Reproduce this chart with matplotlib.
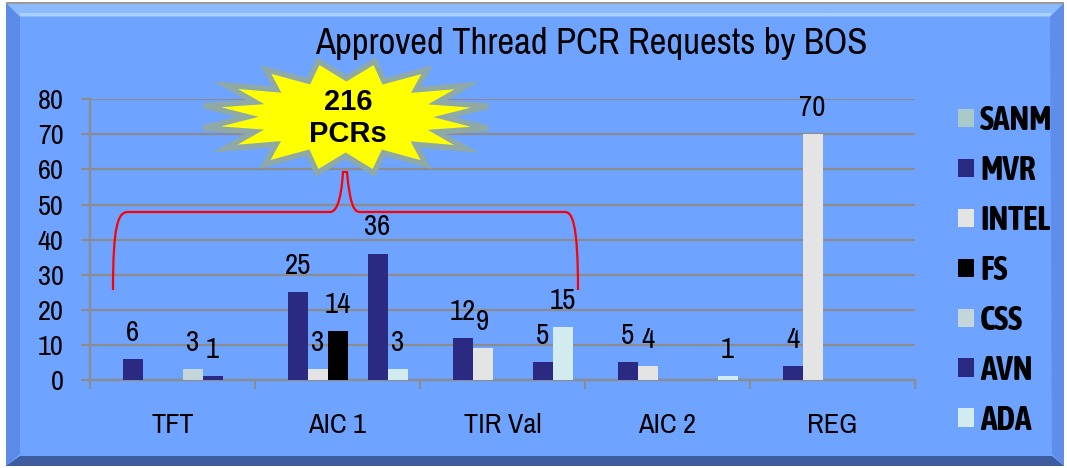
import numpy as np
import matplotlib
matplotlib.use("Agg")
import matplotlib.pyplot as plt
from matplotlib import font_manager
from matplotlib.patches import Polygon, Rectangle, PathPatch
from matplotlib.path import Path
from matplotlib.transforms import Affine2D

# data
categories = ["TFT", "AIC 1", "TIR Val", "AIC 2", "REG"]
series = ["SANM", "MVR", "INTEL", "FS", "CSS", "AVN", "ADA"]
nan = np.nan
sanm = [nan, nan, nan, nan, nan]
mvr = [6, 25, 12, 5, 4]
intel = [nan, 3, 9, 4, 70]
fs = [nan, 14, nan, nan, nan]
css = [3, nan, nan, nan, nan]
avn = [1, 36, 5, nan, nan]
ada = [nan, 3, 15, 1, nan]
total_text = "216\nPCRs"
yticks = [0, 10, 20, 30, 40, 50, 60, 70, 80]

colors = ["#A9CAC9", "#2B2A83", "#E4E4E4", "#000000", "#C5D6D8", "#2B2A83", "#D1EBEE"]

# narrow face if the box has one, else plain Liberation Sans at width-matched sizes
names = {f.name for f in font_manager.fontManager.ttflist}
if "Archivo Narrow" in names:
    REG_FONT, k = ["Archivo Narrow", "Liberation Sans", "DejaVu Sans"], 1.2
else:
    REG_FONT, k = ["Liberation Sans", "DejaVu Sans"], 1.0
if "Asap Condensed" in names:
    BOLD_FONT, kb = ["Asap Condensed", "Liberation Sans", "DejaVu Sans"], 1.42
else:
    BOLD_FONT, kb = ["Liberation Sans", "DejaVu Sans"], 1.0
plt.rcParams["font.family"] = REG_FONT

W, H = 1067, 468
fig = plt.figure(figsize=(W / 100, H / 100), dpi=100)
fig.patch.set_facecolor("white")
# pixel transform, origin top-left
px = Affine2D().scale(1 / W, -1 / H).translate(0, 1) + fig.transFigure

# bevelled frame
BLUE = "#6EA3FF"
frame = [
    (Rectangle((6, 3), 1058, 463), BLUE),
    (Polygon([(6, 3), (1064, 3), (1050, 17), (20, 17)]), "#8DBAFF"),
    (Polygon([(20, 13), (1052, 13), (1050, 16), (20, 16)]), "#A9D2FF"),
    (Polygon([(6, 3), (20, 17), (20, 454), (6, 466)]), "#5B8BE6"),
    (Polygon([(1064, 3), (1050, 17), (1052, 454), (1064, 466)]), "#5E8EEA"),
    (Polygon([(6, 466), (20, 456), (1052, 456), (1064, 466)]), "#3F5D9E"),
]
for p, c in frame:
    p.set_transform(px)
    p.set_facecolor(c)
    p.set_edgecolor("none")
    p.set_zorder(-2)
    fig.add_artist(p)
top_line = Rectangle((6, 2), 1058, 1.5, transform=px, facecolor="#9A9A9A",
                     edgecolor="none", zorder=-1)
fig.add_artist(top_line)

ax = fig.add_axes([90 / W, 1 - 380 / H, 825 / W, (380 - 99.3) / H])
ax.set_facecolor("none")

x = np.arange(len(categories))
w = 20 / 165
GRID = "#8C8C8C"
all_vals = [sanm, mvr, intel, fs, css, avn, ada]
for i, (name, vals, col) in enumerate(zip(series, all_vals, colors)):
    vals = np.array(vals, dtype=float)
    bars = ax.bar(x + (i - 3) * w, vals, w, color=col, label=name, zorder=3)
    labels = ["" if np.isnan(v) else f"{v:g}" for v in vals]
    ax.bar_label(bars, labels=labels, padding=9.5, fontsize=17.3 * k, zorder=4)

ax.set_xlim(-0.5, len(categories) - 0.5)
ax.set_ylim(0, 80)
ax.set_yticks(yticks)
ax.tick_params(axis="y", length=6.5, width=1.5, color=GRID, labelsize=17 * k, pad=12.5)
ax.set_xticks(x)
ax.set_xticklabels(categories)
ax.set_xticks(np.arange(len(categories) + 1) - 0.5, minor=True)
ax.tick_params(axis="x", which="major", length=0, labelsize=17 * k, pad=24)
ax.tick_params(axis="x", which="minor", length=6.5, width=1.5, color=GRID)
ax.yaxis.grid(True, color=GRID, lw=1.6)
ax.set_axisbelow(True)
for s in ["top", "right"]:
    ax.spines[s].set_visible(False)
for s in ["left", "bottom"]:
    ax.spines[s].set_color(GRID)
    ax.spines[s].set_linewidth(1.6)

# red brace spanning the first three categories
def dx(p):
    return -0.5 + (p - 90) / 165

def dy(p):
    return (380 - p) / (280.7 / 80)

brace_px = [
    (113, 290), (113, 225), (118, 212), (128, 212),
    (330, 212), (335, 212), (341, 205), (343, 172),
    (343, 172), (345, 172), (347, 172), (347, 172),
    (350, 205), (354, 212), (360, 212), (565, 212),
    (572, 212), (578, 222), (578, 290),
]
codes = [Path.MOVETO,
         Path.CURVE4, Path.CURVE4, Path.CURVE4,
         Path.LINETO,
         Path.CURVE4, Path.CURVE4, Path.CURVE4,
         Path.LINETO, Path.LINETO, Path.LINETO, Path.LINETO,
         Path.CURVE4, Path.CURVE4, Path.CURVE4,
         Path.LINETO,
         Path.CURVE4, Path.CURVE4, Path.CURVE4]
brace = Path([(dx(a), dy(b)) for a, b in brace_px], codes)
ax.add_patch(PathPatch(brace, facecolor="none", edgecolor="red", lw=1.6,
                       zorder=5, clip_on=False))

# starburst callout
n = 16
ang = np.linspace(0, 2 * np.pi, 2 * n, endpoint=False) + 0.2
r = np.where(np.arange(2 * n) % 2 == 0, 1.0, 0.68)
cx, cy = 346, 117
star = Polygon(np.column_stack([cx + 145 * r * np.cos(ang), cy + 57 * r * np.sin(ang)]),
               closed=True, transform=px, facecolor="#FFFF00", edgecolor="#8FA9A6",
               lw=4, joinstyle="miter", zorder=6)
fig.add_artist(star)
fig.text(348 / W, 1 - 118 / H, total_text, ha="center", va="center", fontsize=21,
         fontweight="bold", family=["Liberation Sans", "DejaVu Sans"],
         linespacing=1.15, zorder=7)

fig.text(591 / W, 1 - 44 / H, "Approved Thread PCR Requests by BOS", ha="center",
         va="center", fontsize=22 * k)

fs_px = 17 * kb * 100 / 72
fig.legend(loc="upper left", bbox_to_anchor=(958, 104), bbox_transform=px,
           frameon=False, borderpad=0, borderaxespad=0, handlelength=16 / fs_px,
           handleheight=16 / fs_px, handletextpad=6 / fs_px,
           labelspacing=(50.8 - 1.01 * fs_px) / fs_px,
           prop={"size": 17 * kb, "weight": "bold", "family": BOLD_FONT})

fig.savefig("out.png", dpi=100, facecolor=fig.get_facecolor())
